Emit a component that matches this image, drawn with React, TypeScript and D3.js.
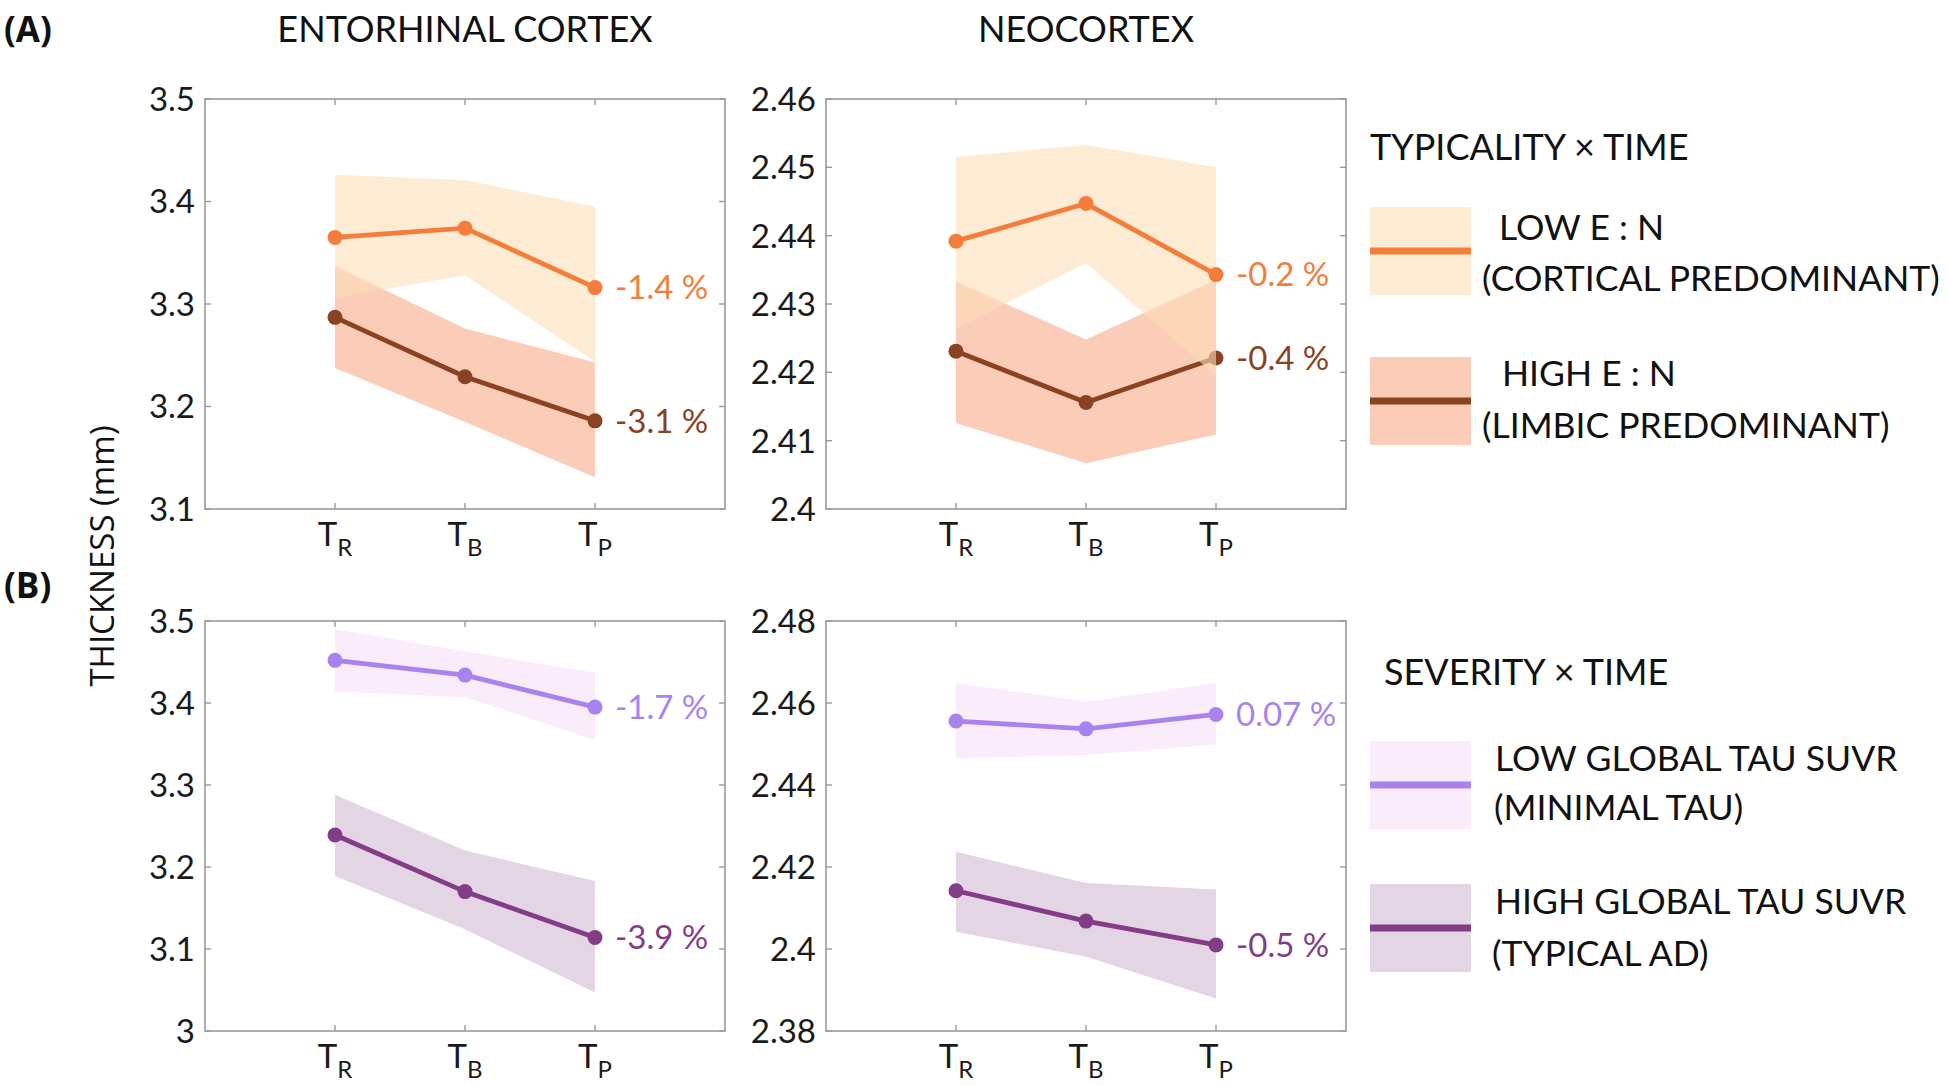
import React from "react";
import * as d3 from "d3";

// ---------- DATA ----------
const timeCodes = ["R", "B", "P"];
const timeIdx = [1, 2, 3];

// Panel A – typicality x time, entorhinal cortex
const entLowMean = [3.365, 3.374, 3.316];
const entLowUpper = [3.426, 3.421, 3.395];
const entLowLower = [3.306, 3.328, 3.244];
const entHighMean = [3.287, 3.229, 3.186];
const entHighUpper = [3.337, 3.276, 3.243];
const entHighLower = [3.2375, 3.185, 3.131];

// Panel A – typicality x time, neocortex
const neoLowMean = [2.4392, 2.4447, 2.4343];
const neoLowUpper = [2.4515, 2.4533, 2.45];
const neoLowLower = [2.4264, 2.436, 2.4195];
const neoHighMean = [2.4231, 2.4156, 2.4221];
const neoHighUpper = [2.4333, 2.4248, 2.4335];
const neoHighLower = [2.4126, 2.4067, 2.4109];

// Panel B – severity x time, entorhinal cortex
const sevEntLowMean = [3.452, 3.434, 3.395];
const sevEntLowUpper = [3.49, 3.463, 3.437];
const sevEntLowLower = [3.414, 3.407, 3.355];
const sevEntHighMean = [3.239, 3.17, 3.114];
const sevEntHighUpper = [3.288, 3.22, 3.183];
const sevEntHighLower = [3.189, 3.124, 3.047];

// Panel B – severity x time, neocortex
const sevNeoLowMean = [2.4556, 2.4537, 2.4572];
const sevNeoLowUpper = [2.4649, 2.4603, 2.4649];
const sevNeoLowLower = [2.4465, 2.4473, 2.4499];
const sevNeoHighMean = [2.4142, 2.4068, 2.401];
const sevNeoHighUpper = [2.4237, 2.4161, 2.4145];
const sevNeoHighLower = [2.4042, 2.3981, 2.3879];

const pctEntA = ["-1.4 %", "-3.1 %"];
const pctNeoA = ["-0.2 %", "-0.4 %"];
const pctEntB = ["-1.7 %", "-3.9 %"];
const pctNeoB = ["0.07 %", "-0.5 %"];

const ticksEntA = [3.1, 3.2, 3.3, 3.4, 3.5];
const ticksNeoA = [2.4, 2.41, 2.42, 2.43, 2.44, 2.45, 2.46];
const ticksEntB = [3.0, 3.1, 3.2, 3.3, 3.4, 3.5];
const ticksNeoB = [2.38, 2.4, 2.42, 2.44, 2.46, 2.48];

const columnTitles = ["ENTORHINAL CORTEX", "NEOCORTEX"];
const legendATitle = "TYPICALITY \u00d7 TIME";
const legendAItems = [
  ["LOW E : N", "(CORTICAL PREDOMINANT)"],
  ["HIGH E : N", "(LIMBIC PREDOMINANT)"],
];
const legendBTitle = "SEVERITY \u00d7 TIME";
const legendBItems = [
  ["LOW GLOBAL TAU SUVR", "(MINIMAL TAU)"],
  ["HIGH GLOBAL TAU SUVR", "(TYPICAL AD)"],
];

// ---------- STYLE ----------
const C = {
  orange: "#F47D3B",
  brown: "#8A4322",
  lowBandA: "#FBDDB7",
  lowBandAOpacity: 0.6,
  highBandA: "#FBCDB8",
  lavender: "#A883EF",
  purple: "#823D86",
  lowBandB: "#F7DAF7",
  lowBandBOpacity: 0.5,
  highBandB: "#E3D5E4",
  axis: "#9a9a9a",
};
const FONT = "Lato, 'Open Sans', sans-serif";

const W = 1946;
const H = 1085;
const PW = 520;
const PH = 410;

type Series = { mean: number[]; upper: number[]; lower: number[] };

function Panel(props: {
  x0: number;
  y0: number;
  domain: [number, number];
  ticks: number[];
  low: Series;
  high: Series;
  lowColor: string;
  highColor: string;
  lowBand: string;
  lowBandOpacity: number;
  highBand: string;
  pct: string[];
}) {
  const { x0, y0, domain, ticks, low, high } = props;
  const x = d3.scaleLinear().domain([0, 4]).range([x0, x0 + PW]);
  const y = d3.scaleLinear().domain(domain).range([y0 + PH, y0]);
  const band = (s: Series) =>
    d3
      .area<number>()
      .x((_, i) => x(timeIdx[i]))
      .y0((_, i) => y(s.lower[i]))
      .y1((_, i) => y(s.upper[i]))(s.mean) || "";
  const line = (s: Series) =>
    d3
      .line<number>()
      .x((_, i) => x(timeIdx[i]))
      .y((d) => y(d))(s.mean) || "";
  const fmt = (v: number) => String(+v.toFixed(2));
  const tl = 6;
  const R = 7.5;
  const LW = 4.8;
  return (
    <g>
      <path d={band(high)} fill={props.highBand} stroke="none" />
      <path d={line(high)} fill="none" stroke={props.highColor} strokeWidth={LW} />
      {high.mean.map((v, i) => (
        <circle key={"h" + i} cx={x(timeIdx[i])} cy={y(v)} r={R} fill={props.highColor} />
      ))}
      <path d={band(low)} fill={props.lowBand} fillOpacity={props.lowBandOpacity} stroke="none" />
      <path d={line(low)} fill="none" stroke={props.lowColor} strokeWidth={LW} />
      {low.mean.map((v, i) => (
        <circle key={"l" + i} cx={x(timeIdx[i])} cy={y(v)} r={R} fill={props.lowColor} />
      ))}
      <text x={x(3) + 20} y={y(low.mean[2])} dy="0.36em" fill={props.lowColor} fontFamily={FONT} fontSize={33}>
        {props.pct[0]}
      </text>
      <text x={x(3) + 20} y={y(high.mean[2])} dy="0.36em" fill={props.highColor} fontFamily={FONT} fontSize={33}>
        {props.pct[1]}
      </text>
      <rect x={x0} y={y0} width={PW} height={PH} fill="none" stroke={C.axis} strokeWidth={1.6} />
      {ticks.map((t) => (
        <g key={"yt" + t}>
          <line x1={x0} x2={x0 + tl} y1={y(t)} y2={y(t)} stroke={C.axis} strokeWidth={1.4} />
          <line x1={x0 + PW} x2={x0 + PW - tl} y1={y(t)} y2={y(t)} stroke={C.axis} strokeWidth={1.4} />
          <text x={x0 - 10} y={y(t)} dy="0.36em" textAnchor="end" fontFamily={FONT} fontSize={33} fill="#1a1a1a">
            {fmt(t)}
          </text>
        </g>
      ))}
      {timeIdx.map((t, i) => (
        <g key={"xt" + t}>
          <line x1={x(t)} x2={x(t)} y1={y0 + PH} y2={y0 + PH - tl} stroke={C.axis} strokeWidth={1.4} />
          <line x1={x(t)} x2={x(t)} y1={y0} y2={y0 + tl} stroke={C.axis} strokeWidth={1.4} />
          <text x={x(t)} y={y0 + PH + 37} textAnchor="middle" fontFamily={FONT} fontSize={33} fill="#1a1a1a">
            T
            <tspan dy={10} fontSize={24}>
              {timeCodes[i]}
            </tspan>
          </text>
        </g>
      ))}
    </g>
  );
}

function Legend(props: {
  title: string;
  titleX: number;
  titleY: number;
  items: string[][];
  swY: number[];
  textX: number[][];
  textY: number[][];
  bands: string[];
  lines: string[];
}) {
  return (
    <g fontFamily={FONT} fill="#111">
      <text x={props.titleX} y={props.titleY} fontSize={36}>
        {props.title}
      </text>
      {props.items.map((it, k) => (
        <g key={k}>
          <rect x={1370} y={props.swY[k]} width={101} height={88} fill={props.bands[k]} />
          <line
            x1={1370}
            x2={1471}
            y1={props.swY[k] + 44}
            y2={props.swY[k] + 44}
            stroke={props.lines[k]}
            strokeWidth={7}
          />
          <text x={props.textX[k][0]} y={props.textY[k][0]} fontSize={35.5}>
            {it[0]}
          </text>
          <text x={props.textX[k][1]} y={props.textY[k][1]} fontSize={35.5}>
            {it[1]}
          </text>
        </g>
      ))}
    </g>
  );
}

export default function App() {
  const lowBandASolid = "#FDEBD4";
  const lowBandBSolid = "#FBECFB";
  return (
    <svg
      width={W}
      height={H}
      viewBox={`0 0 ${W} ${H}`}
      style={{ position: "absolute", left: 0, top: 0, background: "#fff" }}
    >
      <rect x={0} y={0} width={W} height={H} fill="#fff" />
      <text x={4} y={42} fontFamily="'Open Sans', sans-serif" fontWeight={700} fontSize={35} fill="#111">
        (A)
      </text>
      <text x={4} y={598} fontFamily="'Open Sans', sans-serif" fontWeight={700} fontSize={35} fill="#111">
        (B)
      </text>
      <text x={465} y={42} textAnchor="middle" fontFamily={FONT} fontSize={36} fill="#111">
        {columnTitles[0]}
      </text>
      <text x={1086} y={42} textAnchor="middle" fontFamily={FONT} fontSize={36} fill="#111">
        {columnTitles[1]}
      </text>
      <text
        transform="translate(114,556) rotate(-90)"
        textAnchor="middle"
        fontFamily="'Open Sans', sans-serif"
        fontSize={33}
        fill="#111"
      >
        THICKNESS (mm)
      </text>

      <Panel
        x0={205}
        y0={99}
        domain={[3.1, 3.5]}
        ticks={ticksEntA}
        low={{ mean: entLowMean, upper: entLowUpper, lower: entLowLower }}
        high={{ mean: entHighMean, upper: entHighUpper, lower: entHighLower }}
        lowColor={C.orange}
        highColor={C.brown}
        lowBand={C.lowBandA}
        lowBandOpacity={C.lowBandAOpacity}
        highBand={C.highBandA}
        pct={pctEntA}
      />
      <Panel
        x0={826}
        y0={99}
        domain={[2.4, 2.46]}
        ticks={ticksNeoA}
        low={{ mean: neoLowMean, upper: neoLowUpper, lower: neoLowLower }}
        high={{ mean: neoHighMean, upper: neoHighUpper, lower: neoHighLower }}
        lowColor={C.orange}
        highColor={C.brown}
        lowBand={C.lowBandA}
        lowBandOpacity={C.lowBandAOpacity}
        highBand={C.highBandA}
        pct={pctNeoA}
      />
      <Panel
        x0={205}
        y0={621}
        domain={[3.0, 3.5]}
        ticks={ticksEntB}
        low={{ mean: sevEntLowMean, upper: sevEntLowUpper, lower: sevEntLowLower }}
        high={{ mean: sevEntHighMean, upper: sevEntHighUpper, lower: sevEntHighLower }}
        lowColor={C.lavender}
        highColor={C.purple}
        lowBand={C.lowBandB}
        lowBandOpacity={C.lowBandBOpacity}
        highBand={C.highBandB}
        pct={pctEntB}
      />
      <Panel
        x0={826}
        y0={621}
        domain={[2.38, 2.48]}
        ticks={ticksNeoB}
        low={{ mean: sevNeoLowMean, upper: sevNeoLowUpper, lower: sevNeoLowLower }}
        high={{ mean: sevNeoHighMean, upper: sevNeoHighUpper, lower: sevNeoHighLower }}
        lowColor={C.lavender}
        highColor={C.purple}
        lowBand={C.lowBandB}
        lowBandOpacity={C.lowBandBOpacity}
        highBand={C.highBandB}
        pct={pctNeoB}
      />

      <Legend
        title={legendATitle}
        titleX={1370}
        titleY={160}
        items={legendAItems}
        swY={[207, 357]}
        textX={[
          [1499, 1482],
          [1502, 1482],
        ]}
        textY={[
          [240, 291],
          [386, 438],
        ]}
        bands={[lowBandASolid, C.highBandA]}
        lines={[C.orange, C.brown]}
      />
      <Legend
        title={legendBTitle}
        titleX={1384}
        titleY={685}
        items={legendBItems}
        swY={[741, 884]}
        textX={[
          [1495, 1494],
          [1495, 1492],
        ]}
        textY={[
          [771, 820],
          [914, 966],
        ]}
        bands={[lowBandBSolid, C.highBandB]}
        lines={[C.lavender, C.purple]}
      />
    </svg>
  );
}
